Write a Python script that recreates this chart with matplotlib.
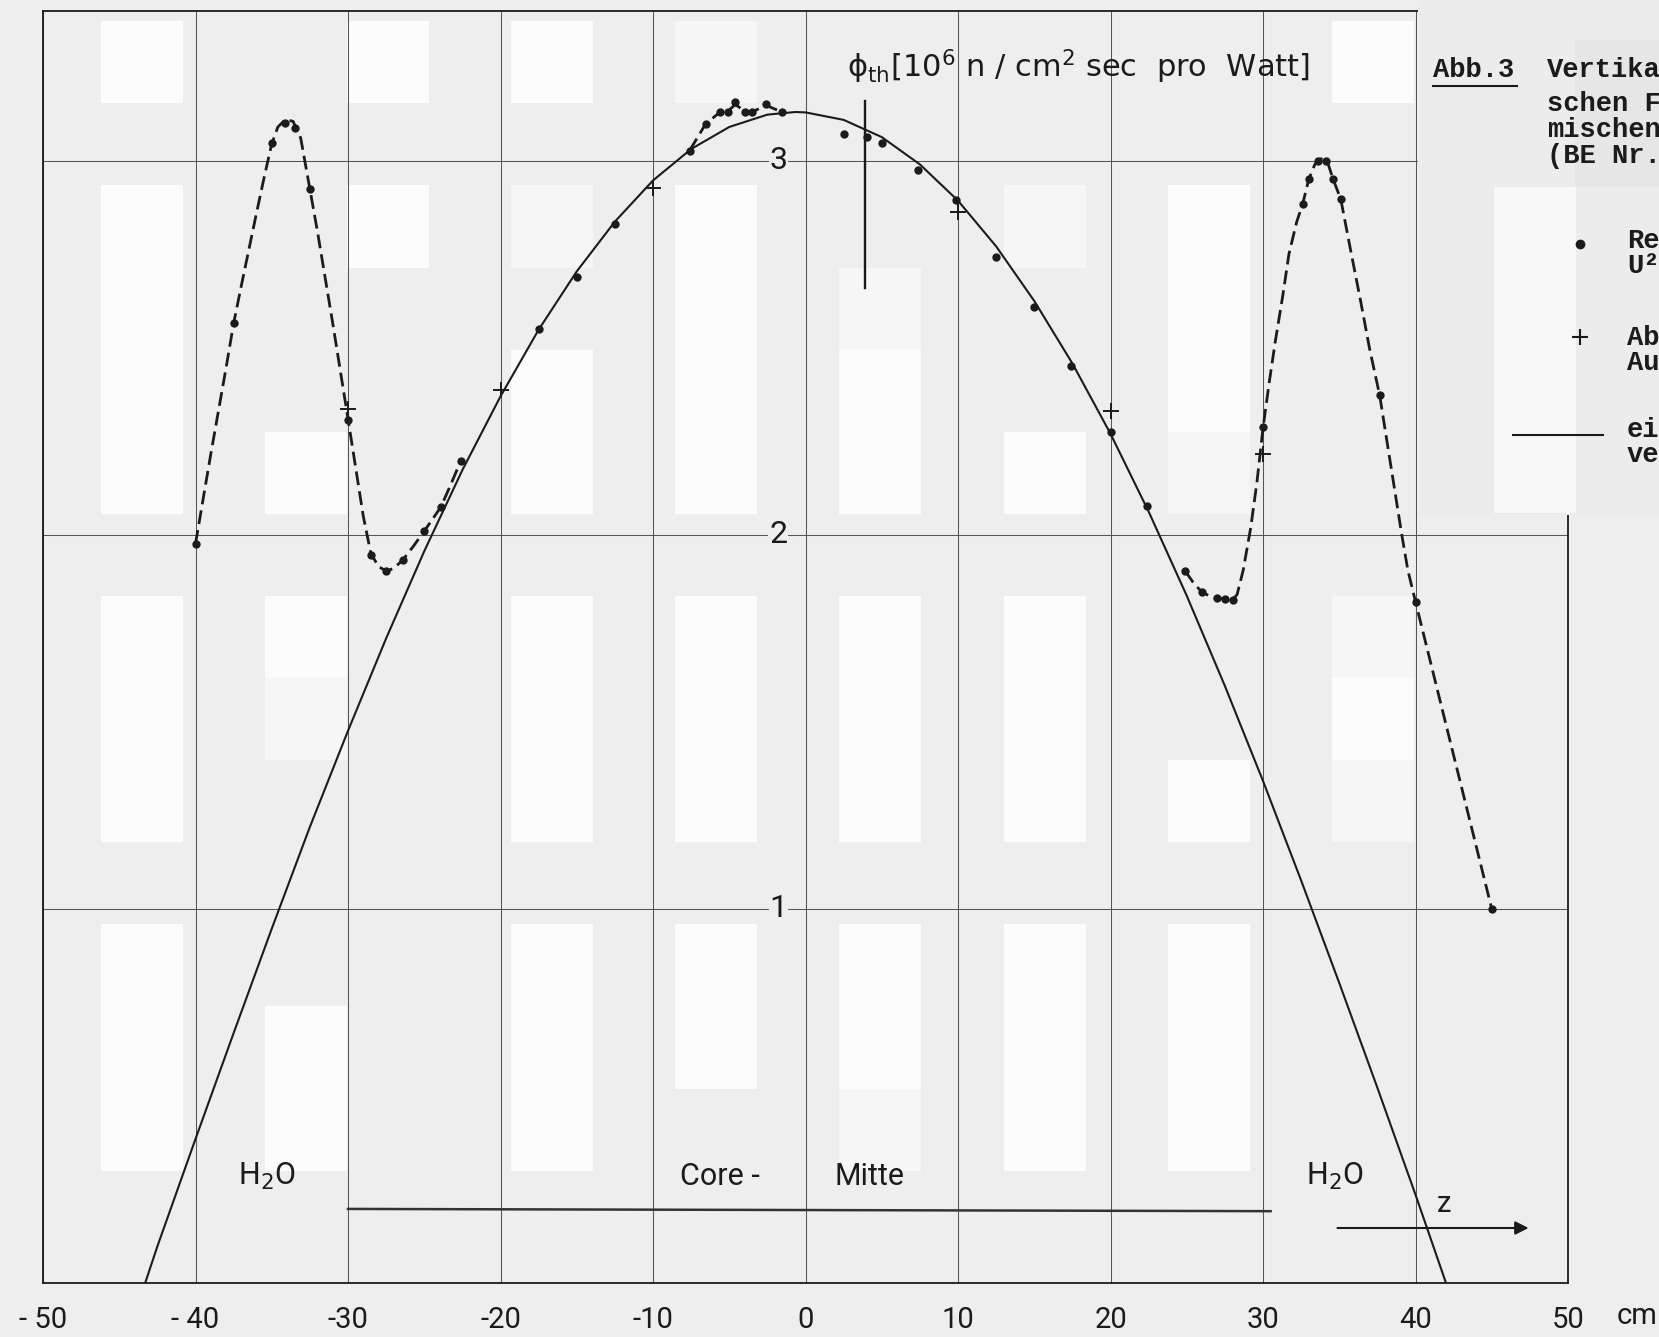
import matplotlib
matplotlib.use("Agg")
import matplotlib.pyplot as plt
from matplotlib.patches import Rectangle
from matplotlib.lines import Line2D

# ---- values: z in cm, phi_th in 1e6 n/cm^2 s per Watt ----
dot_z = [-40.0, -37.5, -35.0, -34.1, -33.5, -32.5, -30.0, -28.5, -27.5, -26.4, -25.0, -23.9, -22.6,
         -17.5, -15.0, -12.5, -7.6, -6.55, -5.6, -5.1, -4.6, -4.0, -3.5, -2.6, -1.55,
         2.55, 4.0, 5.0, 7.4, 9.9, 12.5, 15.0, 17.4, 20.0, 22.4, 24.9, 26.0, 27.0, 27.5, 28.0,
         30.0, 32.6, 33.0, 33.6, 34.1, 34.6, 35.1, 37.65, 40.0, 45.0]
dot_phi = [1.976, 2.565, 3.048, 3.100, 3.088, 2.924, 2.308, 1.945, 1.903, 1.933, 2.010, 2.075, 2.198,
           2.550, 2.690, 2.830, 3.027, 3.098, 3.130, 3.130, 3.158, 3.130, 3.130, 3.151, 3.130,
           3.071, 3.064, 3.048, 2.976, 2.894, 2.742, 2.609, 2.450, 2.275, 2.076, 1.903, 1.847, 1.830, 1.829, 1.826,
           2.288, 2.884, 2.950, 3.000, 3.000, 2.950, 2.897, 2.373, 1.821, 1.000]

cross_z = [-30.0, -20.0, -10.0, 10.0, 20.0, 30.0]
cross_phi = [2.335, 2.386, 2.926, 2.863, 2.332, 2.217]

# hand drawn dashed curve
left_z = [-40.0, -39.0, -38.0, -37.5, -37.0, -36.0, -35.5, -35.0, -34.6, -34.1, -33.6, -33.1, -32.5, -32.0,
          -31.0, -30.0, -29.5, -29.0, -28.5, -28.0, -27.5, -27.0, -26.4, -25.7, -25.0, -24.4, -23.9, -23.2, -22.6]
left_phi = [1.976, 2.215, 2.445, 2.565, 2.665, 2.860, 2.955, 3.045, 3.090, 3.110, 3.105, 3.060, 2.924, 2.810,
            2.565, 2.310, 2.180, 2.050, 1.950, 1.915, 1.903, 1.910, 1.933, 1.970, 2.010, 2.045, 2.075, 2.140, 2.198]
top_z = [-7.6, -6.55, -5.6, -5.1, -4.6, -4.0, -3.5, -2.6, -1.55]
top_phi = [3.027, 3.098, 3.130, 3.132, 3.150, 3.133, 3.130, 3.148, 3.130]
right_z = [24.9, 25.5, 26.0, 26.5, 27.0, 27.5, 28.0, 28.3, 28.7, 29.2, 29.6, 30.0, 30.4, 30.8, 31.3, 31.7,
           32.2, 32.6, 33.0, 33.4, 33.8, 34.2, 34.6, 35.1, 35.7, 36.4, 37.0, 37.65, 38.4, 39.1, 39.5, 40.0, 45.0]
right_phi = [1.903, 1.868, 1.847, 1.836, 1.830, 1.829, 1.826, 1.840, 1.905, 2.020, 2.140, 2.285, 2.405, 2.515,
             2.640, 2.750, 2.835, 2.884, 2.950, 2.990, 3.005, 3.000, 2.950, 2.897, 2.770, 2.625, 2.495, 2.373,
             2.180, 2.000, 1.905, 1.821, 1.000]

# solid cosine-shaped curve, read at 2.5 cm steps
fit_z = [-43.3, -42.5, -40, -37.5, -35, -32.5, -30, -27.5, -25, -22.5, -20, -17.5, -15, -12.5, -10, -7.5, -5,
         -2.5, -0.65, 0, 2.5, 5, 7.5, 10, 12.5, 15, 17.5, 20, 22.5, 25, 27.5, 30, 32.5, 35, 37.5, 40, 42.0]
fit_phi = [0.0, 0.098, 0.385, 0.668, 0.947, 1.219, 1.476, 1.723, 1.956, 2.173, 2.370, 2.548, 2.704, 2.837,
           2.947, 3.031, 3.090, 3.123, 3.130, 3.129, 3.109, 3.063, 2.990, 2.893, 2.771, 2.625, 2.458, 2.270,
           2.062, 1.837, 1.596, 1.342, 1.076, 0.802, 0.522, 0.236, 0.0]

x_ticks = [-50, -40, -30, -20, -10, 0, 10, 20, 30, 40, 50]
x_tick_labels = ["- 50", "- 40", "-30", "-20", "-10", "0", "10", "20", "30", "40", "50"]
y_grid = [1, 2, 3]

legend_title = ["Vertika", "schen F", "mischen", "(BE Nr."]
legend_items = [("Re", "U\u00b2"), ("Ab", "Au"), ("ei", "ve")]

# scan blotches: (column, first row, last row) on the ~82 px block raster
white_blocks = [(1, 1, 1), (1, 3, 6), (1, 8, 10), (1, 12, 14), (3, 6, 6), (3, 8, 8), (3, 13, 14),
                (4, 1, 1), (4, 3, 3), (6, 1, 1), (6, 5, 6), (6, 8, 10), (6, 12, 14), (8, 3, 6),
                (8, 8, 10), (8, 12, 13), (10, 5, 6), (10, 8, 10), (10, 12, 13), (12, 6, 6),
                (12, 8, 10), (12, 12, 14), (14, 3, 5), (14, 10, 10), (14, 12, 14), (16, 1, 1), (16, 9, 9)]
light_blocks = [(3, 9, 9), (6, 3, 3), (8, 1, 1), (10, 4, 4), (10, 14, 14), (12, 3, 3), (14, 6, 6),
                (16, 8, 8), (16, 10, 10)]

W, H = 1659, 1337
BG = "#eeeeee"
INK = "#1b1b1b"
NARROW = ["Roboto", "DejaVu Sans"]
MONO = ["Liberation Mono", "DejaVu Sans Mono"]
BLOCK, BX0, BY0 = 82.1, 18.4, 21.2


def fig_rect(x0, y0, x1, y1, color, z):
    return Rectangle((x0 / W, 1 - y1 / H), (x1 - x0) / W, (y1 - y0) / H,
                     transform=fig.transFigure, fc=color, ec="none", zorder=z)


fig = plt.figure(figsize=(W / 100, H / 100), dpi=100, facecolor=BG)
ax = fig.add_axes([43 / W, 1 - 1283 / H, (1568 - 43) / W, (1283 - 11) / H])
ax.set_facecolor(BG)
ax.set_xlim(-50, 50)
ax.set_ylim(0, 3.4)

for blocks, shade in ((white_blocks, "#fcfcfc"), (light_blocks, "#f6f6f6")):
    for c, r0, r1 in blocks:
        x0 = BX0 + c * BLOCK
        y0 = BY0 + (r0 - 1) * BLOCK
        y1 = BY0 + r1 * BLOCK
        patch = fig_rect(x0, y0, x0 + BLOCK, y1, shade, 0.1)
        patch.set_clip_path(ax.patch)
        ax.add_artist(patch)

ax.set_axisbelow(True)
ax.grid(True, color="#555555", lw=0.75)
ax.set_xticks(x_ticks)
ax.set_xticklabels(x_tick_labels, fontsize=21, family=NARROW, color=INK)
ax.tick_params(axis="x", length=0, pad=16.5)
ax.set_yticks(y_grid)
ax.tick_params(axis="y", length=0, labelleft=False)
for s in ax.spines.values():
    s.set_color(INK)
    s.set_linewidth(1.3)

ax.text(54.5, -0.026, "cm", transform=ax.get_xaxis_transform(), fontsize=21,
        family=NARROW, color=INK, ha="center", va="center", clip_on=False)
for v in y_grid:
    ax.text(-1.2, v, str(v), fontsize=23, family=NARROW, color=INK, ha="right",
            va="center", zorder=4, bbox=dict(fc=BG, ec="none", pad=0.4))

ax.plot(fit_z, fit_phi, color=INK, lw=1.5, zorder=2, solid_joinstyle="round")
for zs, ps in ((left_z, left_phi), (top_z, top_phi), (right_z, right_phi)):
    ax.plot(zs, ps, color=INK, lw=2.0, dashes=(5, 2.2), zorder=2.1)
ax.plot(dot_z, dot_phi, "o", ms=6, color=INK, mec="none", zorder=3)
ax.plot(cross_z, cross_phi, "+", ms=11, mew=1.4, color=INK, zorder=3)

# axis label with its pointer
ax.text(2.7, 3.25, r"$\mathrm{\phi}_{\mathrm{th}}$[10$^{6}$ n / cm$^{2}$ sec  pro  Watt]",
        fontsize=22, family="DejaVu Sans", color=INK, ha="left", va="center", zorder=4)
ax.plot([3.9, 3.9], [3.16, 2.66], color=INK, lw=1.7, zorder=3)

# region labels along the bottom
label_kw = dict(fontsize=22, family=NARROW, color=INK, ha="center", va="center")
ax.text(-35.3, 0.285, "H$_2$O", **label_kw)
ax.text(-5.6, 0.285, "Core -", **label_kw)
ax.text(4.2, 0.285, "Mitte", **label_kw)
ax.text(34.7, 0.285, "H$_2$O", **label_kw)
ax.plot([-30.0, 30.5], [0.198, 0.192], color="#333333", lw=1.8, zorder=2)
ax.text(41.9, 0.21, "z", fontsize=21, family=NARROW, color=INK, ha="center", va="center")
ax.annotate("", xy=(47.6, 0.147), xytext=(34.7, 0.147),
            arrowprops=dict(arrowstyle="-|>", color=INK, lw=1.5, mutation_scale=20))

# caption block in the upper right corner, partly cut off by the page edge
fig.add_artist(fig_rect(1418, 0, W, 515, "#ececec", 5))
fig.add_artist(fig_rect(1575, 40, W, 187, "#e6e6e6", 5.1))
fig.add_artist(fig_rect(1494, 187, 1576, 513, "#f8f8f8", 5.1))

mono = dict(family=MONO, weight="bold", fontsize=19.5, color=INK, va="center", ha="left", zorder=7)
fig.text(1433 / W, 1 - 70 / H, "Abb.3", **mono)
fig.add_artist(Line2D([1433 / W, 1517 / W], [1 - 86 / H, 1 - 86 / H], transform=fig.transFigure,
                      color=INK, lw=1.5, zorder=7))
for i, line in enumerate(legend_title):
    fig.text(1547 / W, 1 - (70 + [0, 34, 60, 86][i]) / H, line, **mono)

item_y = [241, 338, 430]
for (l1, l2), yy in zip(legend_items, item_y):
    fig.text(1627 / W, 1 - yy / H, l1, **mono)
    fig.text(1627 / W, 1 - (yy + 25) / H, l2, **mono)
fig.add_artist(Line2D([1580 / W], [1 - 244 / H], marker="o", ms=6, color=INK, ls="none",
                      transform=fig.transFigure, zorder=7))
fig.add_artist(Line2D([1580 / W], [1 - 337 / H], marker="+", ms=11, mew=1.5, color=INK, ls="none",
                      transform=fig.transFigure, zorder=7))
fig.add_artist(Line2D([1513 / W, 1603 / W], [1 - 435 / H, 1 - 435 / H], color=INK, lw=1.5,
                      transform=fig.transFigure, zorder=7))

fig.savefig("out.png", dpi=100, facecolor=BG)
